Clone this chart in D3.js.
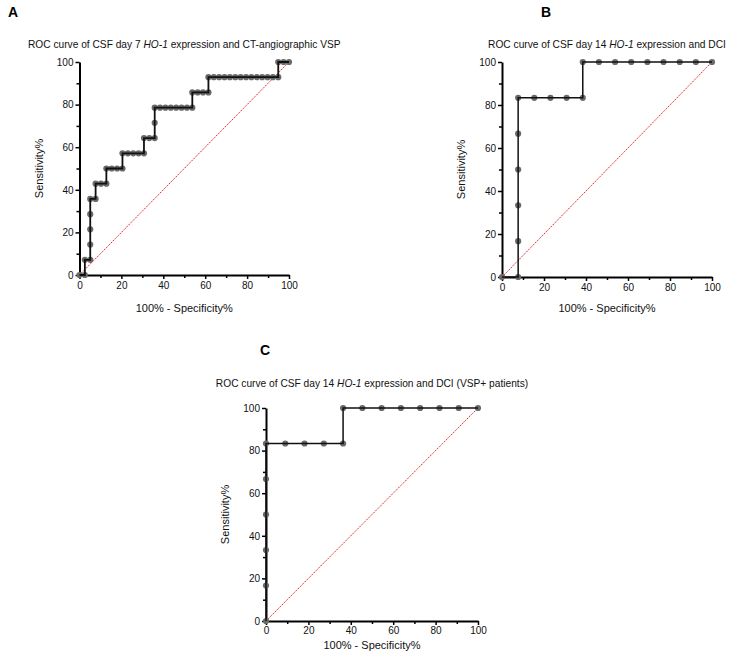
<!DOCTYPE html>
<html>
<head>
<meta charset="utf-8">
<script src="https://cdn.jsdelivr.net/npm/d3@7"></script>
<style>
  html, body { margin: 0; padding: 0; background: #fff; }
  svg { display: block; font-family: "Liberation Sans", Arial, sans-serif; }
</style>
</head>
<body>
<svg id="chart" width="756" height="658"></svg>
<script>
// ---------- DATA ----------
const majorTicks = [0, 20, 40, 60, 80, 100];
const minorTicks = [10, 30, 50, 70, 90];

// Panel A: CSF day 7 HO-1 vs CT-angiographic VSP
const specA = [0, 2.56, 2.56, 5.13, 5.13, 5.13, 5.13, 5.13, 7.69, 7.69, 10.26, 12.82, 12.82, 15.38, 17.95, 20.51,
  20.51, 23.08, 25.64, 28.21, 30.77, 30.77, 33.33, 35.90, 35.90, 35.90, 38.46, 41.03, 43.59, 46.15, 48.72, 51.28,
  53.85, 53.85, 56.41, 58.97, 61.54, 61.54, 64.10, 66.67, 69.23, 71.79, 74.36, 76.92, 79.49, 82.05, 84.62, 87.18,
  89.74, 92.31, 94.87, 94.87, 97.44, 100];
const sensA = [0, 0, 7.14, 7.14, 14.29, 21.43, 28.57, 35.71, 35.71, 42.86, 42.86, 42.86, 50, 50, 50, 50,
  57.14, 57.14, 57.14, 57.14, 57.14, 64.29, 64.29, 64.29, 71.43, 78.57, 78.57, 78.57, 78.57, 78.57, 78.57, 78.57,
  78.57, 85.71, 85.71, 85.71, 85.71, 92.86, 92.86, 92.86, 92.86, 92.86, 92.86, 92.86, 92.86, 92.86, 92.86, 92.86,
  92.86, 92.86, 92.86, 100, 100, 100];

// Panel B: CSF day 14 HO-1 vs DCI
const specB = [0, 7.69, 7.69, 7.69, 7.69, 7.69, 7.69, 15.38, 23.08, 30.77, 38.46, 38.46, 46.15, 53.85, 61.54, 69.23, 76.92, 84.62, 92.31, 100];
const sensB = [0, 0, 16.67, 33.33, 50, 66.67, 83.33, 83.33, 83.33, 83.33, 83.33, 100, 100, 100, 100, 100, 100, 100, 100, 100];

// Panel C: CSF day 14 HO-1 vs DCI (VSP+ patients)
const specC = [0, 0, 0, 0, 0, 0, 9.09, 18.18, 27.27, 36.36, 36.36, 45.45, 54.55, 63.64, 72.73, 81.82, 90.91, 100];
const sensC = [0, 16.67, 33.33, 50, 66.67, 83.33, 83.33, 83.33, 83.33, 83.33, 100, 100, 100, 100, 100, 100, 100, 100];

const refLine = [0, 100];

const panels = [
  { letter: "A", lx: 8, ly: 17, x0: 79.5, x1: 289, y0: 275, y1: 62,
    title: ["ROC curve of CSF day 7 ", "HO-1", " expression and CT-angiographic VSP"], ty: 48,
    spec: specA, sens: sensA, lw: 1.8, xlOff: 37, pad: 3 },
  { letter: "B", lx: 541, ly: 17, x0: 502, x1: 712, y0: 277, y1: 62,
    title: ["ROC curve of CSF day 14 ", "HO-1", " expression and DCI"], ty: 48,
    spec: specB, sens: sensB, lw: 1.5, xlOff: 35, pad: 3 },
  { letter: "C", lx: 260, ly: 355, x0: 266, x1: 478, y0: 621, y1: 408,
    title: ["ROC curve of CSF day 14 ", "HO-1", " expression and DCI (VSP+ patients)"], ty: 387,
    spec: specC, sens: sensC, lw: 1.5, xlOff: 28, pad: 2 }
];

const svg = d3.select("#chart");

panels.forEach(p => {
  const x = d3.scaleLinear().domain([0, 100]).range([p.x0, p.x1]);
  const y = d3.scaleLinear().domain([0, 100]).range([p.y0, p.y1]);
  const g = svg.append("g");

  // panel letter
  g.append("text").attr("x", p.lx).attr("y", p.ly)
    .attr("font-size", 14).attr("font-weight", "bold").attr("fill", "#000").text(p.letter);

  // title
  const t = g.append("text").attr("x", (p.x0 + p.x1) / 2).attr("y", p.ty)
    .attr("text-anchor", "middle").attr("font-size", 10.2).attr("fill", "#111");
  t.append("tspan").text(p.title[0]);
  t.append("tspan").attr("font-style", "italic").text(p.title[1]);
  t.append("tspan").text(p.title[2]);

  // axes
  g.append("g").attr("transform", `translate(0,${p.y0})`)
    .call(d3.axisBottom(x).tickValues(majorTicks).tickSize(4).tickSizeOuter(0).tickPadding(p.pad));
  g.append("g").attr("transform", `translate(0,${p.y0})`)
    .call(d3.axisBottom(x).tickValues(minorTicks).tickSize(3).tickSizeOuter(0).tickFormat(""))
    .select(".domain").remove();
  g.append("g").attr("transform", `translate(${p.x0},0)`)
    .call(d3.axisLeft(y).tickValues(majorTicks).tickSize(4).tickSizeOuter(0).tickPadding(2));
  g.append("g").attr("transform", `translate(${p.x0},0)`)
    .call(d3.axisLeft(y).tickValues(minorTicks).tickSize(3).tickSizeOuter(0).tickFormat(""))
    .select(".domain").remove();
  g.selectAll(".domain").attr("stroke", "#000").attr("stroke-width", 2);
  g.selectAll(".tick line").attr("stroke", "#000").attr("stroke-width", 1.5);
  g.selectAll(".tick text").attr("font-size", 10).attr("fill", "#111")
    .attr("font-family", "'Liberation Sans', Arial, sans-serif");

  // axis labels
  g.append("text").attr("x", (p.x0 + p.x1) / 2).attr("y", p.y0 + p.xlOff)
    .attr("text-anchor", "middle").attr("font-size", 11).attr("fill", "#111")
    .text("100% - Specificity%");
  g.append("text")
    .attr("transform", `translate(${p.x0 - 37},${(p.y0 + p.y1) / 2}) rotate(-90)`)
    .attr("text-anchor", "middle").attr("font-size", 11).attr("fill", "#111")
    .text("Sensitivity%");

  // reference diagonal
  g.append("line")
    .attr("x1", x(refLine[0])).attr("y1", y(refLine[0]))
    .attr("x2", x(refLine[1])).attr("y2", y(refLine[1]))
    .attr("stroke", "#e02020").attr("stroke-width", 1).attr("stroke-dasharray", "1.5,1");

  const pts = p.spec.map((s, i) => [s, p.sens[i]]);

  // markers
  g.append("g").selectAll("circle").data(pts).join("circle")
    .attr("cx", d => x(d[0])).attr("cy", d => y(d[1])).attr("r", 3.1)
    .attr("fill", "#6a6a6a");

  // step line
  g.append("path").datum(pts)
    .attr("d", d3.line().x(d => x(d[0])).y(d => y(d[1])))
    .attr("fill", "none").attr("stroke", "#111").attr("stroke-width", p.lw);
});
</script>
</body>
</html>
